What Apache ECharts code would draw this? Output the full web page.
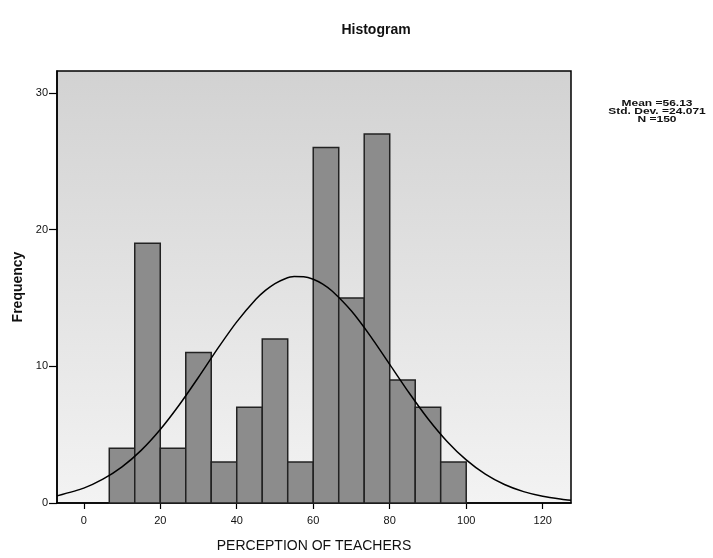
<!DOCTYPE html>
<html>
<head>
<meta charset="utf-8">
<script src="https://cdn.jsdelivr.net/npm/echarts@6/dist/echarts.min.js"></script>
<style>
html,body{margin:0;padding:0;background:#fff;}
#chart{width:713px;height:558px;}
</style>
</head>
<body>
<div id="chart"></div>
<script>
// Histogram bins (PERCEPTION OF TEACHERS)
const binStarts = [6.67, 13.33, 20, 26.67, 33.33, 40, 46.67, 53.33, 60, 66.67, 73.33, 80, 86.67, 93.33];
const binEnds   = [13.33, 20, 26.67, 33.33, 40, 46.67, 53.33, 60, 66.67, 73.33, 80, 86.67, 93.33, 100];
const counts    = [4, 19, 4, 11, 3, 7, 12, 3, 26, 15, 27, 9, 7, 3];

// Normal curve
const curveX = [-7, 0, 5, 10, 15, 20, 25, 30, 35, 40, 45, 47.5, 50, 52.5, 55, 57.5, 60, 62.5, 65, 70, 75, 80, 85, 90, 95, 100, 105, 110, 115, 120, 125, 127.4];
const curveY = [0.52, 1.09, 1.74, 2.64, 3.85, 5.38, 7.19, 9.2, 11.29, 13.25, 14.9, 15.55, 16.05, 16.39, 16.56, 16.55, 16.37, 16.01, 15.49, 14.04, 12.19, 10.14, 8.08, 6.16, 4.5, 3.15, 2.11, 1.35, 0.83, 0.49, 0.28, 0.21];

const xTicks = [0, 20, 40, 60, 80, 100, 120];
const yTicks = [0, 10, 20, 30];
const statsLines = ['Mean =56.13', 'Std. Dev. =24.071', 'N =150'];

const chart = echarts.init(document.getElementById('chart'));
const barData = binStarts.map((s, i) => [s, binEnds[i], counts[i]]);
const curveData = curveX.map((x, i) => [x, curveY[i]]);
const FONT = 'Liberation Sans, Arial, sans-serif';

chart.setOption({
  animation: false,
  backgroundColor: '#ffffff',
  title: {
    text: 'Histogram',
    left: 371, top: 18, textAlign: 'center',
    textStyle: {fontFamily: FONT, fontSize: 14, fontWeight: 'bold', color: '#111'}
  },
  graphic: [{
    type: 'text', x: 657, y: 99, scaleY: 0.7,
    style: {
      text: statsLines.join('\n'), fill: '#111',
      font: 'bold 12px ' + FONT, lineHeight: 12, align: 'center', verticalAlign: 'top'
    }
  }],
  grid: {
    left: 57, right: 142, top: 71, bottom: 55,
    show: true, borderColor: '#000', borderWidth: 1.5,
    backgroundColor: {
      type: 'linear', x: 0, y: 0, x2: 0, y2: 1,
      colorStops: [{offset: 0, color: '#d2d2d2'}, {offset: 0.55, color: '#e4e4e4'}, {offset: 1, color: '#f3f3f3'}]
    }
  },
  xAxis: {
    type: 'value', min: -7, max: 127.4,
    name: 'PERCEPTION OF TEACHERS', nameLocation: 'middle', nameGap: 36,
    nameTextStyle: {fontFamily: FONT, fontSize: 14, color: '#111'},
    axisLine: {show: true, onZero: false, lineStyle: {color: '#000', width: 1.5}},
    axisTick: {show: true, customValues: xTicks, length: 6, lineStyle: {color: '#000', width: 1.2}},
    axisLabel: {customValues: xTicks, fontFamily: FONT, fontSize: 11, color: '#111', margin: 12},
    splitLine: {show: false}
  },
  yAxis: {
    type: 'value', min: 0, max: 31.6,
    name: 'Frequency', nameLocation: 'middle', nameGap: 32, nameRotate: 90,
    nameTextStyle: {fontFamily: FONT, fontSize: 14, fontWeight: 'bold', color: '#111'},
    axisLine: {show: true, onZero: false, lineStyle: {color: '#000', width: 1.5}},
    axisTick: {show: true, customValues: yTicks, length: 8, lineStyle: {color: '#000', width: 1.2}},
    axisLabel: {customValues: yTicks, fontFamily: FONT, fontSize: 11, color: '#111', margin: 9},
    splitLine: {show: false}
  },
  series: [{
    type: 'custom',
    data: barData,
    encode: {x: [0, 1], y: 2},
    renderItem: function (params, api) {
      const p0 = api.coord([api.value(0), api.value(2)]);
      const p1 = api.coord([api.value(1), 0]);
      return {
        type: 'rect',
        shape: {x: p0[0], y: p0[1], width: p1[0] - p0[0], height: p1[1] - p0[1]},
        style: {fill: '#8c8c8c', stroke: '#222', lineWidth: 1.5}
      };
    },
    z: 2
  }, {
    type: 'line',
    data: curveData,
    smooth: 0.2,
    showSymbol: false,
    symbol: 'none',
    lineStyle: {color: '#000', width: 1.5},
    z: 3
  }]
});
</script>
</body>
</html>
